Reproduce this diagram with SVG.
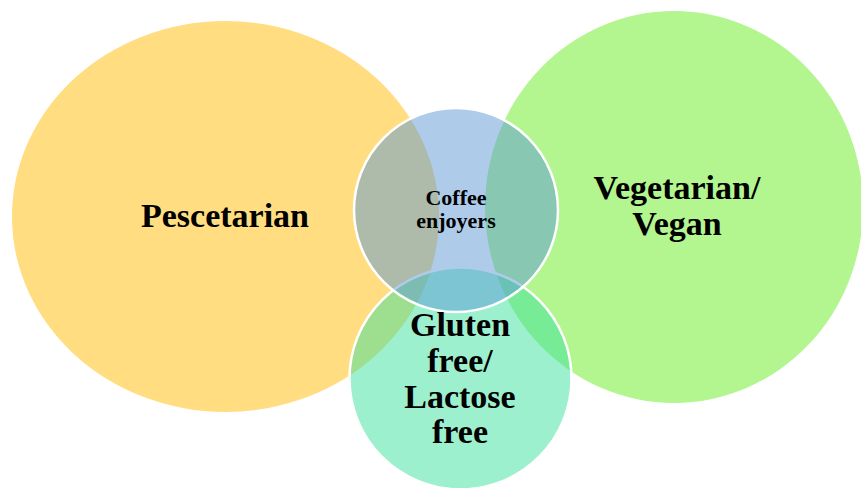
<svg xmlns="http://www.w3.org/2000/svg" width="861" height="488" viewBox="0 0 861 488">
<style>
.lbl{font-family:"Liberation Serif","Times New Roman",serif;font-weight:bold;fill:#000;text-anchor:middle}
.big{font-size:34px}
.small{font-size:22px}
.c{stroke:#fff;stroke-width:2.5}
</style>
<rect width="861" height="488" fill="#fff"/>
<g id="pescetarian">
<ellipse cx="225.5" cy="216.5" rx="213.5" ry="195.5" fill="#FFDD80"/>
</g>
<g id="vegetarian">
<ellipse cx="674" cy="207" rx="189" ry="196" fill="#B3F58F"/>
</g>
<g id="gluten">
<circle class="c" cx="460.5" cy="378.5" r="111" fill="#3BE19D" fill-opacity="0.5"/>
</g>
<g id="coffee">
<circle class="c" cx="456" cy="210" r="102" fill="#5D99D5" fill-opacity="0.5"/>
</g>
<g id="labels">
<text class="lbl big" x="225" y="227">Pescetarian</text>
<text class="lbl big" x="677" y="199">Vegetarian/</text>
<text class="lbl big" x="677" y="235">Vegan</text>
<text class="lbl small" x="456" y="205">Coffee</text>
<text class="lbl small" x="456" y="228">enjoyers</text>
<text class="lbl big" x="460" y="336">Gluten</text>
<text class="lbl big" x="460" y="372">free/</text>
<text class="lbl big" x="460" y="408">Lactose</text>
<text class="lbl big" x="460" y="443">free</text>
</g>
<g id="connectors"></g>
</svg>
